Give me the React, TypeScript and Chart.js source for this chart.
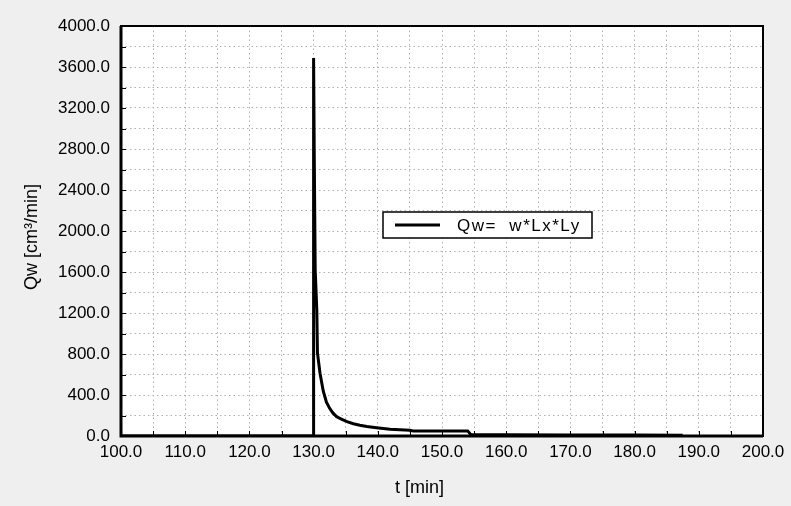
import { useEffect, useRef } from "react";
import { Chart, registerables } from "chart.js";

Chart.register(...registerables);

// ---- data ----
const timeMin = [100, 130.0, 130.0, 130.1, 130.25, 130.5, 130.6, 131.0, 131.5, 132.0, 132.5, 133.0, 133.6, 134.5, 135.2, 136.2, 137.2, 138.3, 139.8, 141.9, 145.0, 145.5, 154.0, 154.5, 160, 170, 180, 187.5];
const qwValues = [0, 0, 3688, 2760, 1620, 1230, 810, 612, 440, 330, 270, 225, 188, 160, 140, 120, 105, 92, 80, 65, 55, 50, 50, 12, 11, 10, 9, 8];

const seriesLabel = "Qw=  w*Lx*Ly";
const xTitle = "t [min]";
const yTitle = "Qw [cm\u00B3/min]";
const xMin = 100;
const xMax = 200;
const xStep = 5;
const xLabelEvery = 10;
const yMin = 0;
const yMax = 4000;
const yStep = 200;
const yLabelEvery = 400;

const FONT = "'Liberation Sans', Arial, sans-serif";

const bgPlugin = {
  id: "bg",
  beforeDraw(chart: any) {
    const { ctx, width, height, chartArea: ca } = chart;
    ctx.save();
    ctx.fillStyle = "#efefef";
    ctx.fillRect(0, 0, width, height);
    ctx.fillStyle = "#ffffff";
    ctx.fillRect(ca.left, ca.top, ca.right - ca.left, ca.bottom - ca.top);
    ctx.restore();
  },
};

const framePlugin = {
  id: "frame",
  afterDraw(chart: any) {
    const { ctx, chartArea: ca, scales } = chart;
    ctx.save();
    ctx.strokeStyle = "#000";
    // inward ticks
    ctx.lineWidth = 1;
    ctx.beginPath();
    for (let v = xMin + xStep; v < xMax; v += xStep) {
      const px = Math.round(scales.x.getPixelForValue(v)) + 0.5;
      ctx.moveTo(px, ca.bottom);
      ctx.lineTo(px, ca.bottom - 5);
    }
    for (let v = yMin + yStep; v < yMax; v += yStep) {
      const py = Math.round(scales.y.getPixelForValue(v)) + 0.5;
      ctx.moveTo(ca.left, py);
      ctx.lineTo(ca.left + 5, py);
    }
    ctx.stroke();
    // frame
    ctx.lineWidth = 2;
    ctx.strokeRect(ca.left, ca.top, ca.right - ca.left, ca.bottom - ca.top);
    ctx.lineWidth = 3;
    ctx.beginPath();
    ctx.moveTo(ca.left, ca.top);
    ctx.lineTo(ca.left, ca.bottom);
    ctx.lineTo(ca.right, ca.bottom);
    ctx.stroke();

    // axis titles
    ctx.fillStyle = "#000";
    ctx.font = `18px ${FONT}`;
    ctx.textAlign = "center";
    ctx.textBaseline = "middle";
    ctx.fillText(xTitle, ca.left + (ca.right - ca.left) * 0.465, ca.bottom + 52);
    ctx.save();
    ctx.translate(ca.left - 89, (ca.top + ca.bottom) / 2 + 6);
    ctx.rotate(-Math.PI / 2);
    ctx.fillText(yTitle, 0, 0);
    ctx.restore();

    // legend
    const lx = ca.left + 262;
    const ly = ca.top + 186;
    const lw = 209;
    const lh = 26;
    ctx.fillStyle = "#fff";
    ctx.fillRect(lx, ly, lw, lh);
    ctx.lineWidth = 1.5;
    ctx.strokeRect(lx, ly, lw, lh);
    ctx.lineWidth = 3;
    ctx.beginPath();
    ctx.moveTo(lx + 12, ly + lh / 2);
    ctx.lineTo(lx + 57, ly + lh / 2);
    ctx.stroke();
    ctx.fillStyle = "#000";
    ctx.font = `17px ${FONT}`;
    ctx.textAlign = "left";
    (ctx as any).letterSpacing = "1.5px";
    ctx.fillText(chart.data.datasets[0].label, lx + 74, ly + lh / 2 + 1);
    ctx.restore();
  },
};

export default function App() {
  const ref = useRef<HTMLCanvasElement | null>(null);
  useEffect(() => {
    document.body.style.margin = "0";
    document.body.style.background = "#efefef";
    const canvas = ref.current;
    if (!canvas) return;
    const chart = new Chart(canvas, {
      type: "line",
      data: {
        datasets: [
          {
            label: seriesLabel,
            data: timeMin.map((t, i) => ({ x: t, y: qwValues[i] })),
            borderColor: "#000",
            backgroundColor: "#000",
            borderWidth: 3,
            pointRadius: 0,
            tension: 0,
            fill: false,
          },
        ],
      },
      options: {
        animation: false,
        responsive: false,
        devicePixelRatio: 1,
        layout: { padding: { left: 0, top: 26, right: 28, bottom: 0 } },
        plugins: { legend: { display: false }, tooltip: { enabled: false } },
        scales: {
          x: {
            type: "linear",
            min: xMin,
            max: xMax,
            afterFit(s: any) {
              s.height = 70;
            },
            afterBuildTicks(s: any) {
              const t = [];
              for (let v = xMin; v <= xMax; v += xStep) t.push({ value: v });
              s.ticks = t;
            },
            ticks: {
              autoSkip: false,
              maxRotation: 0,
              padding: 6,
              color: "#000",
              font: { family: FONT, size: 17 },
              callback: (v: any) => (Number(v) % xLabelEvery === 0 ? Number(v).toFixed(1) : ""),
            },
            grid: { color: "#b0b0b0", lineWidth: 1, drawTicks: false },
            border: { display: false, dash: [1.5, 3] },
          },
          y: {
            type: "linear",
            min: yMin,
            max: yMax,
            afterFit(s: any) {
              s.width = 121;
            },
            afterBuildTicks(s: any) {
              const t = [];
              for (let v = yMin; v <= yMax; v += yStep) t.push({ value: v });
              s.ticks = t;
            },
            ticks: {
              autoSkip: false,
              padding: 11,
              color: "#000",
              font: { family: FONT, size: 17 },
              callback: (v: any) => (Number(v) % yLabelEvery === 0 ? Number(v).toFixed(1) : ""),
            },
            grid: { color: "#b0b0b0", lineWidth: 1, drawTicks: false },
            border: { display: false, dash: [1.5, 3] },
          },
        },
      },
      plugins: [bgPlugin, framePlugin],
    });
    return () => chart.destroy();
  }, []);
  return (
    <div style={{ width: 791, height: 506, background: "#efefef" }}>
      <canvas ref={ref} width={791} height={506} style={{ display: "block" }} />
    </div>
  );
}
